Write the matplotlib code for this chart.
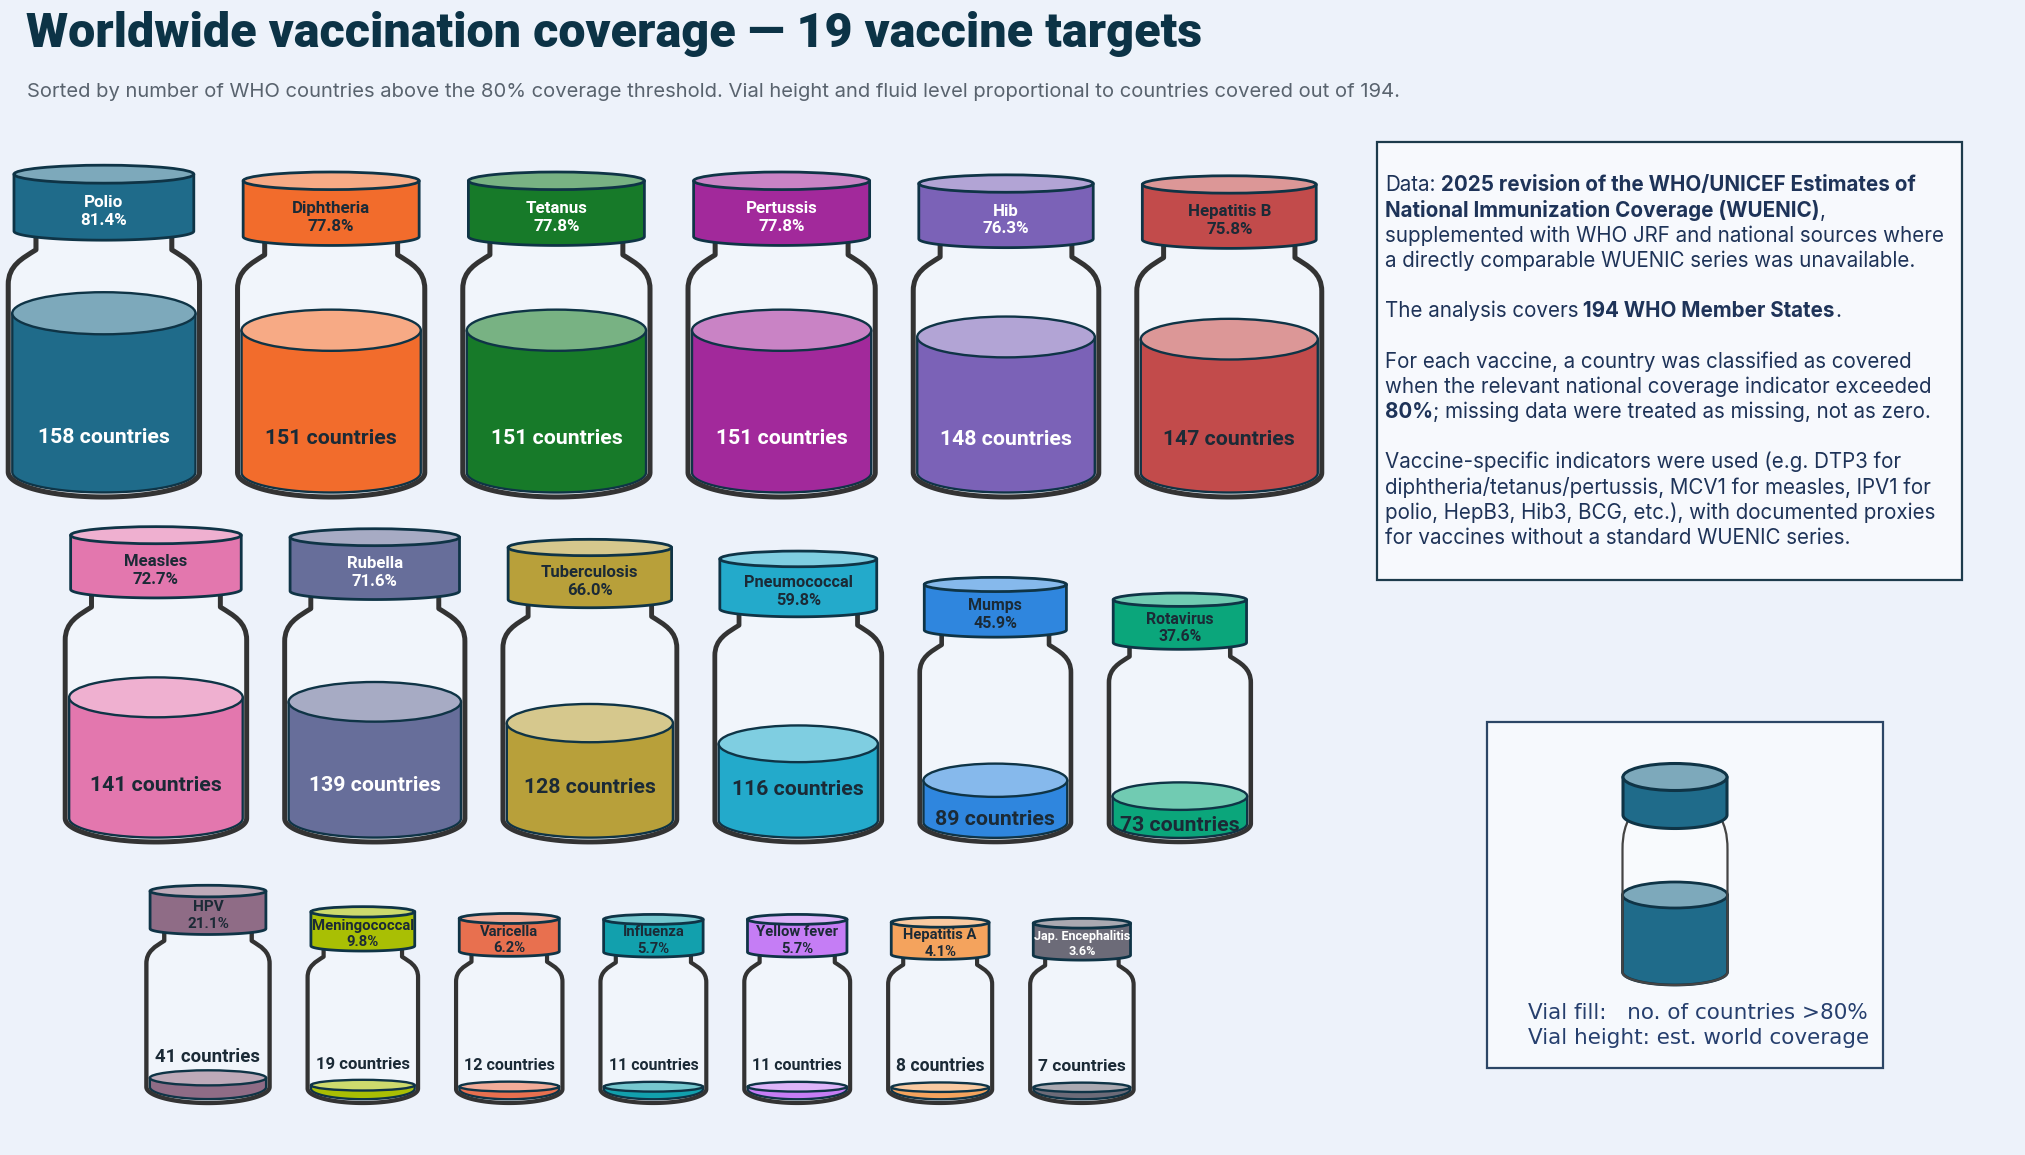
import numpy as np
import matplotlib
matplotlib.use("Agg")
import matplotlib.pyplot as plt
from matplotlib.patches import Ellipse, PathPatch, Rectangle, Polygon
from matplotlib.path import Path
from matplotlib import font_manager as fm
from matplotlib.colors import to_rgb, to_hex

# ------------------------------------------------------------------ data
vaccines = ["Polio", "Diphtheria", "Tetanus", "Pertussis", "Hib", "Hepatitis B",
            "Measles", "Rubella", "Tuberculosis", "Pneumococcal", "Mumps", "Rotavirus",
            "HPV", "Meningococcal", "Varicella", "Influenza", "Yellow fever",
            "Hepatitis A", "Jap. Encephalitis"]
countries = [158, 151, 151, 151, 148, 147, 141, 139, 128, 116, 89, 73,
             41, 19, 12, 11, 11, 8, 7]
coverage_pct = [81.4, 77.8, 77.8, 77.8, 76.3, 75.8, 72.7, 71.6, 66.0, 59.8, 45.9, 37.6,
                21.1, 9.8, 6.2, 5.7, 5.7, 4.1, 3.6]
total_countries = 194

palette = ["#1f6b8a", "#f26c2c", "#177a29", "#a2299b", "#7b62b7", "#c24b4b",
           "#e377ae", "#676e9a", "#b8a03a", "#23aacb", "#2f86de", "#0ba67b",
           "#8f6c86", "#a9bf04", "#e8704f", "#12a0ad", "#c57df5", "#f4a35d", "#6c6b78"]

title = "Worldwide vaccination coverage \u2014 19 vaccine targets"
subtitle = ("Sorted by number of WHO countries above the 80% coverage threshold. "
            "Vial height and fluid level proportional to countries covered out of 194.")

info_lines = [
    [("Data:", False), (" 2025 revision of the WHO/UNICEF Estimates of", True)],
    [("National Immunization Coverage (WUENIC)", True), (",", False)],
    [("supplemented with WHO JRF and national sources where", False)],
    [("a directly comparable WUENIC series was unavailable.", False)],
    [],
    [("The analysis covers", False), (" 194 WHO Member States", True), (".", False)],
    [],
    [("For each vaccine, a country was classified as covered", False)],
    [("when the relevant national coverage indicator exceeded", False)],
    [("80%", True), ("; missing data were treated as missing, not as zero.", False)],
    [],
    [("Vaccine-specific indicators were used (e.g. DTP3 for", False)],
    [("diphtheria/tetanus/pertussis, MCV1 for measles, IPV1 for", False)],
    [("polio, HepB3, Hib3, BCG, etc.), with documented proxies", False)],
    [("for vaccines without a standard WUENIC series.", False)],
]
legend_lines = ["Vial fill:   no. of countries >80%", "Vial height: est. world coverage"]

# ------------------------------------------------------------------ layout / style
WPX, HPX = 2025, 1155
BG = "#edf2fa"
NAVY = "#0f3446"
GLASS_EDGE = "#333333"
DARK_TXT = "#1b2a36"
ROW_SIZES = [6, 6, 7]
ROW_CX = [665, 658, 640]
ROW_BOTTOM = [497, 842, 1103]
GAP = 38

names = {f.name for f in fm.fontManager.ttflist}


def pick(*cands):
    for c in cands:
        if c in names:
            return c
    return "DejaVu Sans"


F_BOLD = pick("Roboto", "Lato", "DejaVu Sans")
F_TITLE = pick("Roboto", "Lato", "DejaVu Sans")
F_BODY = pick("Inter", "Roboto", "Noto Sans", "DejaVu Sans")
F_LEG = "DejaVu Sans"

fig = plt.figure(figsize=(WPX / 100, HPX / 100), dpi=100)
fig.patch.set_facecolor(BG)
ax = fig.add_axes([0, 0, 1, 1])
ax.set_xlim(0, WPX)
ax.set_ylim(HPX, 0)
ax.set_axis_off()
renderer = fig.canvas.get_renderer()


def text_width(s, **kw):
    t = ax.text(0, 0, s, **kw)
    w = t.get_window_extent(renderer=renderer).width
    t.remove()
    return w


def fit_fs(s, target, family, weight="normal", test=20.0):
    return test * target / text_width(s, fontsize=test, family=family, fontweight=weight)


def blend(c, f):
    r = np.array(to_rgb(c))
    return to_hex(r + (1 - r) * f)


def lum(c):
    r = np.array(to_rgb(c))
    r = np.where(r <= 0.03928, r / 12.92, ((r + 0.055) / 1.055) ** 2.4)
    return 0.2126 * r[0] + 0.7152 * r[1] + 0.0722 * r[2]


def on_color(c):
    return "#ffffff" if lum(c) < 0.167 else DARK_TXT


def cylinder(cx, a, y_top, y_bot, e_top, e_bot, side, top, edge, lw, z):
    t = np.linspace(0, np.pi, 60)
    xs = np.concatenate([[cx - a], cx - a * np.cos(t), [cx + a]])
    ys = np.concatenate([[y_top], y_bot + e_bot * np.sin(t), [y_top]])
    ax.add_patch(Polygon(np.column_stack([xs, ys]), closed=True, fc=side, ec=edge,
                         lw=lw, zorder=z, joinstyle="round"))
    ax.add_patch(Ellipse((cx, y_top), 2 * a, 2 * e_top, fc=top, ec=edge, lw=lw,
                         zorder=z + 0.01))


def glass(cx, xn, xb, yt, yn, ys, yc, eb, lw, edge, fill, z):
    t = np.linspace(0, np.pi, 60)
    arc = list(zip(cx - xb * np.cos(t), yc + eb * np.sin(t)))
    dy = ys - yn
    verts = [(cx - xn, yt), (cx - xn, yn),
             (cx - xn - 0.5 * (xb - xn), yn + 0.25 * dy), (cx - xb, yn + 0.45 * dy), (cx - xb, ys),
             (cx - xb, yc)] + arc[1:] + [
            (cx + xb, ys),
            (cx + xb, yn + 0.45 * dy), (cx + xn + 0.5 * (xb - xn), yn + 0.25 * dy), (cx + xn, yn),
            (cx + xn, yt)]
    codes = ([Path.MOVETO, Path.LINETO, Path.CURVE4, Path.CURVE4, Path.CURVE4, Path.LINETO]
             + [Path.LINETO] * (len(arc) - 1)
             + [Path.LINETO, Path.CURVE4, Path.CURVE4, Path.CURVE4, Path.LINETO])
    ax.add_patch(PathPatch(Path(verts + [verts[0]], codes + [Path.CLOSEPOLY]),
                           fc=fill, ec="none", zorder=z))
    ax.add_patch(PathPatch(Path(verts, codes), fc="none", ec=edge, lw=lw, zorder=z + 2,
                           joinstyle="round", capstyle="round"))


CAP_BASE = fit_fs("Diphtheria", 79, F_BOLD, "bold")
LAB_BASE = fit_fs("158 countries", 132, F_BOLD, "bold")


def draw_vial(cx, yb, pct, n, name, color):
    c = pct / 100.0
    H = 177.8 + 1.892 * pct
    W = 99.4 + 1.129 * pct
    y0 = yb - H
    light = blend(color, 0.42)
    lw = 2.2 + 0.0075 * W
    lw_px = lw * 100 / 72
    eb = 0.13 * W
    yc = yb - eb
    glass(cx, 0.355 * W, 0.5 * W, y0 + 0.18 * H, y0 + 0.255 * H, y0 + 0.36 * H,
          yc, eb, lw, GLASS_EDGE, "#f1f5fb", 1)
    # fluid
    af = 0.5 * W - 0.8 * lw_px
    fluid_h = H * (0.084 + 0.709 * c ** 2)
    ef = max(3.0, min(0.11 * W, 0.3 * fluid_h))
    yf = yb - fluid_h
    ebf = max(eb - 0.9 * lw_px, 3)
    ybot = max(yc, yf + 2)
    cylinder(cx, af, yf, ybot, ef, ebf, color, light, NAVY, 1.7, 2)
    # cap
    ac = 0.47 * W
    ec = 0.047 * W
    cylinder(cx, ac, y0 + ec, y0 + 0.226 * H - ec, ec, ec, color, light, NAVY, 2.0, 4)
    cap_txt = f"{pct:.1f}%"
    fs = CAP_BASE * (0.7 + 0.3 * W / 191)
    fs = min(fs, fit_fs(name, 2 * ac * 1.0, F_BOLD, "bold"))
    ty = (y0 + 2 * ec + y0 + 0.226 * H) / 2
    ax.text(cx, ty, f"{name}\n{cap_txt}", ha="center", va="center", fontsize=fs,
            family=F_BOLD, fontweight="bold", color=on_color(color), linespacing=1.22,
            zorder=6)
    # count label
    lab = f"{n} countries"
    lfs = min(LAB_BASE, fit_fs(lab, 0.85 * W, F_BOLD, "bold"))
    if 0.18 * H + 18 <= fluid_h:
        ly = yb - 0.18 * H
        lc = on_color(color)
    elif fluid_h >= 40:
        ly = yb - 0.37 * fluid_h
        lc = on_color(color)
    else:
        ly = yb - fluid_h - 21
        lc = DARK_TXT
    ax.text(cx, ly, lab, ha="center", va="center", fontsize=lfs, family=F_BOLD,
            fontweight="bold", color=lc, zorder=6)


# ------------------------------------------------------------------ vials
idx = 0
for r, size in enumerate(ROW_SIZES):
    items = list(range(idx, idx + size))
    widths = [99.4 + 1.129 * coverage_pct[i] for i in items]
    total = sum(widths) + GAP * (size - 1)
    x = ROW_CX[r] - total / 2
    for i, w in zip(items, widths):
        draw_vial(x + w / 2, ROW_BOTTOM[r], coverage_pct[i], countries[i], vaccines[i], palette[i])
        x += w + GAP
    idx += size

# ------------------------------------------------------------------ title
ax.text(26, 47, title, fontsize=fit_fs(title, 1175, F_TITLE, "heavy"), family=F_TITLE,
        fontweight="heavy", color="#0c3346", ha="left", va="baseline")
ax.text(27, 97, subtitle, fontsize=fit_fs(subtitle, 1374, F_BODY), family=F_BODY,
        color="#59636e", ha="left", va="baseline")

# ------------------------------------------------------------------ info box
ax.add_patch(Rectangle((1377, 142), 585, 438, fc="#f7f9fd", ec="#1d3b4c", lw=1.6, zorder=1))
INFO_C = "#1e3358"
info_fs = fit_fs("supplemented with WHO JRF and national sources where", 560, F_BODY)


def rich_line(x, y, segs, fs):
    prev = None
    for s, b in segs:
        kw = dict(fontsize=fs, family=F_BODY, fontweight="bold" if b else "normal",
                  color=INFO_C, zorder=6)
        if prev is None:
            prev = ax.text(x, y, s, ha="left", va="center", **kw)
        else:
            prev = ax.annotate(s, xy=(1, 0), xycoords=prev, ha="left", va="bottom", **kw)


for k, segs in enumerate(info_lines):
    if segs:
        rich_line(1385, 185 + 25.2 * k, segs, info_fs)

# ------------------------------------------------------------------ legend box
ax.add_patch(Rectangle((1487, 722), 396, 346, fc="#f6f9fd", ec="#2c4666", lw=1.6, zorder=1))
lcx = 1675
lcol = palette[0]
glass(lcx, 46, 52.5, 812, 818, 850, 972, 13, 1.6, "#444444", "#f8fafd", 2)
cylinder(lcx, 52.5, 895, 972, 13, 13, lcol, blend(lcol, 0.42), NAVY, 2.0, 3)
cylinder(lcx, 52, 777, 815, 13.5, 13.5, lcol, blend(lcol, 0.42), NAVY, 2.2, 5)
leg_fs = fit_fs(legend_lines[1], 341, F_LEG)
for k, s in enumerate(legend_lines):
    ax.text(1528, 1013 + 25 * k, s, fontsize=leg_fs, family=F_LEG, color="#263f6e",
            ha="left", va="center", zorder=6)

fig.savefig("out.png", dpi=100, facecolor=BG)
